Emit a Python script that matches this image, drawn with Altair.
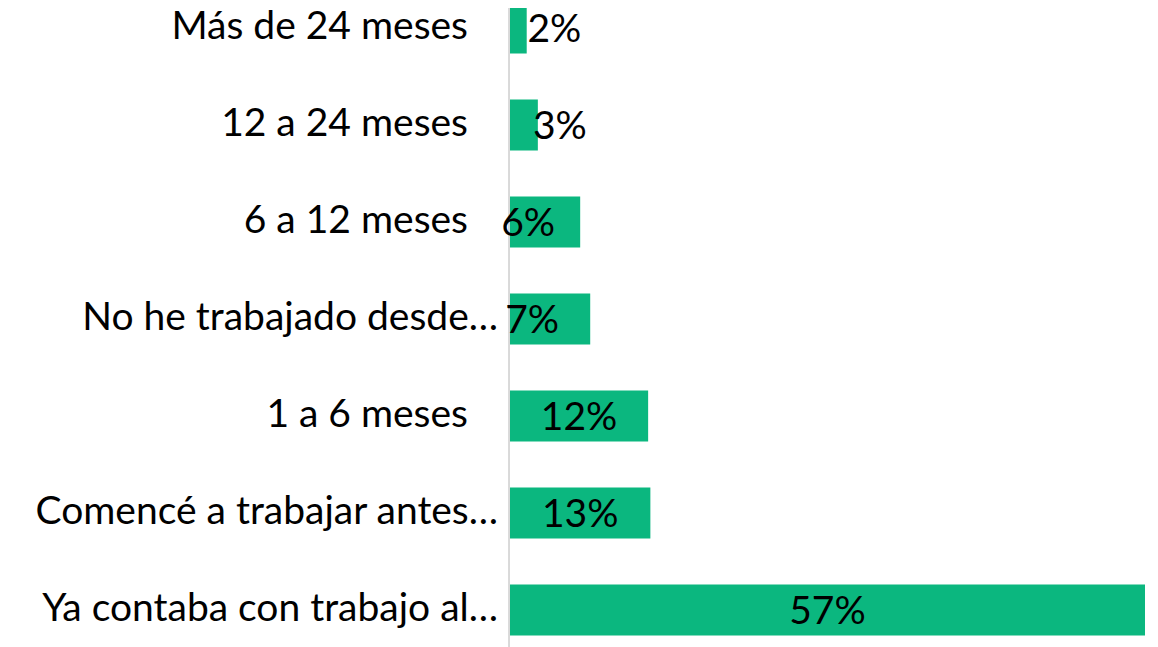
import altair as alt
import pandas as pd

categories = [
    "Más de 24 meses",
    "12 a 24 meses",
    "6 a 12 meses",
    "No he trabajado desde…",
    "1 a 6 meses",
    "Comencé a trabajar antes…",
    "Ya contaba con trabajo al…",
]
values = [1.5, 2.5, 6.3, 7.2, 12.4, 12.6, 57.0]
labels = ["2%", "3%", "6%", "7%", "12%", "13%", "57%"]

# label pixel shifts (Excel-like placement of labels on short bars)
label_shift = {"Más de 24 meses": 36, "12 a 24 meses": 36, "6 a 12 meses": -17,
               "No he trabajado desde…": -18}

df = pd.DataFrame({"cat": categories, "val": values, "lab": labels})
df["mid"] = df["val"] / 2
df["shift"] = df["cat"].map(label_shift).fillna(0)
df["trunc"] = df["cat"].str.endswith("…")

FONT = "Lato"
FS = 39
GREEN = "#0BB77F"

y_scale = alt.Scale(range=[-28.5, 650.5], paddingInner=0.474, paddingOuter=0.237)
y_enc = alt.Y("cat:N", sort=categories, title=None, scale=y_scale, axis=None)
x_scale = alt.Scale(domain=[0, 57], nice=False, zero=True)

bars = alt.Chart(df).mark_bar(color=GREEN).encode(
    y=y_enc,
    x=alt.X("val:Q", scale=x_scale, axis=None),
)

axis_line = alt.Chart(df).mark_rule(color="#D9D9D9", strokeWidth=1.5).encode(
    x=alt.value(-0.75), y=alt.value(-8), y2=alt.value(647)
)

layers = [axis_line, bars]

# category labels (truncated ones sit closer to the axis, as in the original)
for is_trunc, dx in [(True, 0), (False, -30)]:
    sub = df[df["trunc"] == is_trunc]
    layers.append(
        alt.Chart(sub).mark_text(
            font=FONT, fontSize=FS, color="#000000", baseline="middle",
            align="right", dx=dx, dy=-1
        ).encode(
            y=alt.Y("cat:N", sort=categories),
            x=alt.value(-12),
            text="cat:N",
        )
    )

for s in sorted(df["shift"].unique()):
    sub = df[df["shift"] == s]
    layers.append(
        alt.Chart(sub).mark_text(
            font=FONT, fontSize=FS, color="#000000", baseline="middle",
            align="center", dx=float(s), dy=2
        ).encode(
            y=alt.Y("cat:N", sort=categories),
            x=alt.X("mid:Q", scale=x_scale),
            text="lab:N",
        )
    )

chart = alt.layer(*layers).properties(
    width=635,
    height=639,
    autosize=alt.AutoSizeParams(type="none"),
    padding={"left": 502, "top": 0, "right": 0, "bottom": 0},
).configure(background="white").configure_view(stroke=None)

chart.save("out.html", embed_options={"renderer": "svg", "actions": False})
